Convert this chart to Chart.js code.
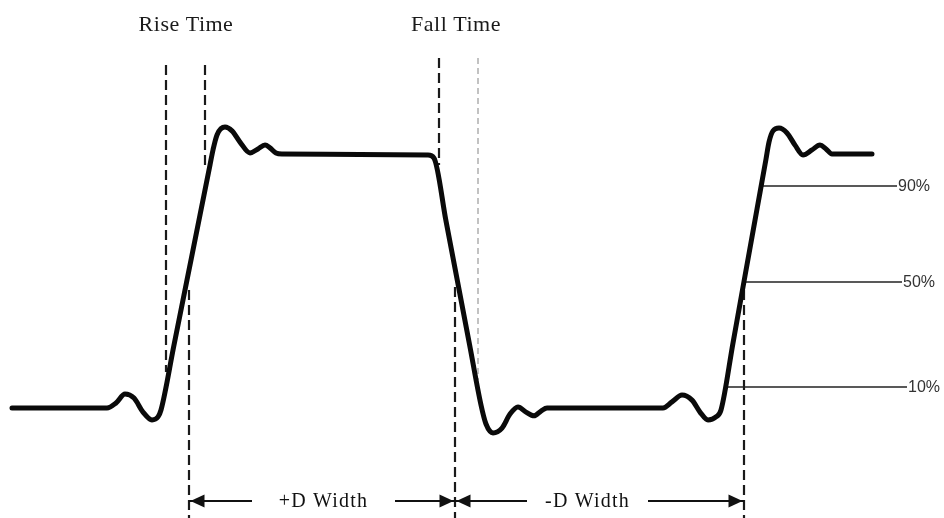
<!DOCTYPE html>
<html><head><meta charset="utf-8">
<script src="https://cdn.jsdelivr.net/npm/chart.js@4.4.1/dist/chart.umd.min.js"></script>
<style>html,body{margin:0;padding:0;background:#fff}canvas{display:block}</style>
</head><body>
<canvas id="c" width="944" height="518"></canvas>
<script>
// Time axis (t, arbitrary units across the trace), amplitude normalised: 0 = low level, 1 = high level
const waveT = [12,107,116,125,134,143,152,158,161,174,187,200,210,213,217,225,232,240,250,258,265,270,276,282,
  428,434,446,458,470,481,486,493,502,510,518,526,534,541,547,
  663,672,682,692,700,708,716,721,733,745,757,766,769,773,779,787,795,803,812,820,826,832,872];
const waveA = [0,0,0.020,0.055,0.039,-0.016,-0.047,-0.035,-0.008,0.248,0.504,0.760,0.957,1.016,1.075,1.106,1.091,1.047,1.004,1.020,1.035,1.024,1.004,1.000,
  0.996,0.984,0.736,0.488,0.240,0.012,-0.063,-0.098,-0.079,-0.024,0.004,-0.016,-0.031,-0.012,0,
  0,0.024,0.051,0.031,-0.016,-0.047,-0.035,-0.008,0.256,0.520,0.783,0.980,1.047,1.091,1.102,1.083,1.035,0.996,1.016,1.035,1.020,1.000,1.000];

// dashed measurement markers
const markerT      = [166, 205, 439, 478, 189, 455, 744];
const markerTopA   = [1.350, 1.350, 1.378, 1.378, 0.465, 0.476, 0.465];
const markerBotA   = [0.142, 0.945, 0.957, 0.110, -0.433, -0.433, -0.433];
const markerLight  = [false, false, false, true, false, false, false];

// reference levels
const levelLabels = ['90%', '50%', '10%'];
const levelA      = [0.874, 0.496, 0.083];
const levelStartT = [763, 745, 725];
const levelEndT   = [897, 902, 907];

// titles
const titleLabels = ['Rise Time', 'Fall Time'];
const titleT      = [186, 456];
const titleA      = 1.484;

// pulse width spans
const spanLabels    = ['+D Width', '-D Width'];
const spanStartT    = [189, 455];
const spanEndT      = [455, 744];
const spanGapStartT = [252, 527];
const spanGapEndT   = [395, 648];
const spanA         = -0.366;

const datasets = [];
datasets.push({
  data: waveT.map((t, i) => ({x: t, y: waveA[i]})),
  borderColor: '#0a0a0a', borderWidth: 5, cubicInterpolationMode: 'monotone',
  borderCapStyle: 'round', borderJoinStyle: 'round', pointRadius: 0, order: 0
});
markerT.forEach((t, i) => {
  datasets.push({
    data: [{x: t, y: markerTopA[i]}, {x: t, y: markerBotA[i]}],
    borderColor: markerLight[i] ? '#9a9a9a' : '#1a1a1a',
    borderWidth: markerLight[i] ? 1.2 : 2.2,
    borderDash: markerLight[i] ? [6, 4] : [10, 5],
    pointRadius: 0, order: 2
  });
});
levelA.forEach((a, i) => {
  datasets.push({
    data: [{x: levelStartT[i], y: a}, {x: levelEndT[i], y: a}],
    borderColor: '#222', borderWidth: 1.5, pointRadius: 0, order: 1
  });
});
spanLabels.forEach((l, i) => {
  datasets.push({data: [{x: spanStartT[i], y: spanA}, {x: spanGapStartT[i], y: spanA}],
    borderColor: '#111', borderWidth: 2, pointRadius: 0, order: 1});
  datasets.push({data: [{x: spanGapEndT[i], y: spanA}, {x: spanEndT[i], y: spanA}],
    borderColor: '#111', borderWidth: 2, pointRadius: 0, order: 1});
});

const annot = {
  id: 'annot',
  afterDatasetsDraw(chart) {
    const ctx = chart.ctx, xs = chart.scales.x, ys = chart.scales.y;
    ctx.save();
    // titles
    ctx.fillStyle = '#1a1a1a';
    ctx.font = '22px "Liberation Serif"';
    ctx.letterSpacing = '0.5px';
    ctx.textAlign = 'center'; ctx.textBaseline = 'alphabetic';
    titleLabels.forEach((l, i) => ctx.fillText(l, xs.getPixelForValue(titleT[i]), ys.getPixelForValue(titleA)));
    // level labels
    ctx.letterSpacing = '0px';
    ctx.font = '16px "Liberation Sans"';
    ctx.fillStyle = '#333';
    ctx.textAlign = 'left'; ctx.textBaseline = 'middle';
    levelLabels.forEach((l, i) => ctx.fillText(l, xs.getPixelForValue(levelEndT[i]) + 1, ys.getPixelForValue(levelA[i]) + 1));
    // spans: arrowheads + labels
    const yp = ys.getPixelForValue(spanA);
    ctx.fillStyle = '#111';
    spanLabels.forEach((l, i) => {
      const x0 = xs.getPixelForValue(spanStartT[i]) + 1.5, x1 = xs.getPixelForValue(spanEndT[i]) - 1.5;
      ctx.beginPath(); ctx.moveTo(x0, yp); ctx.lineTo(x0 + 14, yp - 6.5); ctx.lineTo(x0 + 14, yp + 6.5); ctx.closePath(); ctx.fill();
      ctx.beginPath(); ctx.moveTo(x1, yp); ctx.lineTo(x1 - 14, yp - 6.5); ctx.lineTo(x1 - 14, yp + 6.5); ctx.closePath(); ctx.fill();
    });
    ctx.font = '20px "Liberation Serif"';
    ctx.letterSpacing = '1.2px';
    ctx.textAlign = 'center'; ctx.textBaseline = 'middle';
    spanLabels.forEach((l, i) => {
      const xm = (xs.getPixelForValue(spanGapStartT[i]) + xs.getPixelForValue(spanGapEndT[i])) / 2;
      ctx.fillText(l, xm, yp + 1);
    });
    ctx.restore();
  }
};

new Chart(document.getElementById('c'), {
  type: 'line',
  data: {datasets},
  options: {
    responsive: false, animation: false,
    layout: {padding: 0},
    plugins: {legend: {display: false}, tooltip: {enabled: false}},
    elements: {line: {tension: 0}},
    scales: {
      x: {type: 'linear', min: 0, max: 944, display: false},
      y: {type: 'linear', min: -110 / 254, max: 408 / 254, display: false}
    }
  },
  plugins: [annot]
});
</script>
</body></html>
